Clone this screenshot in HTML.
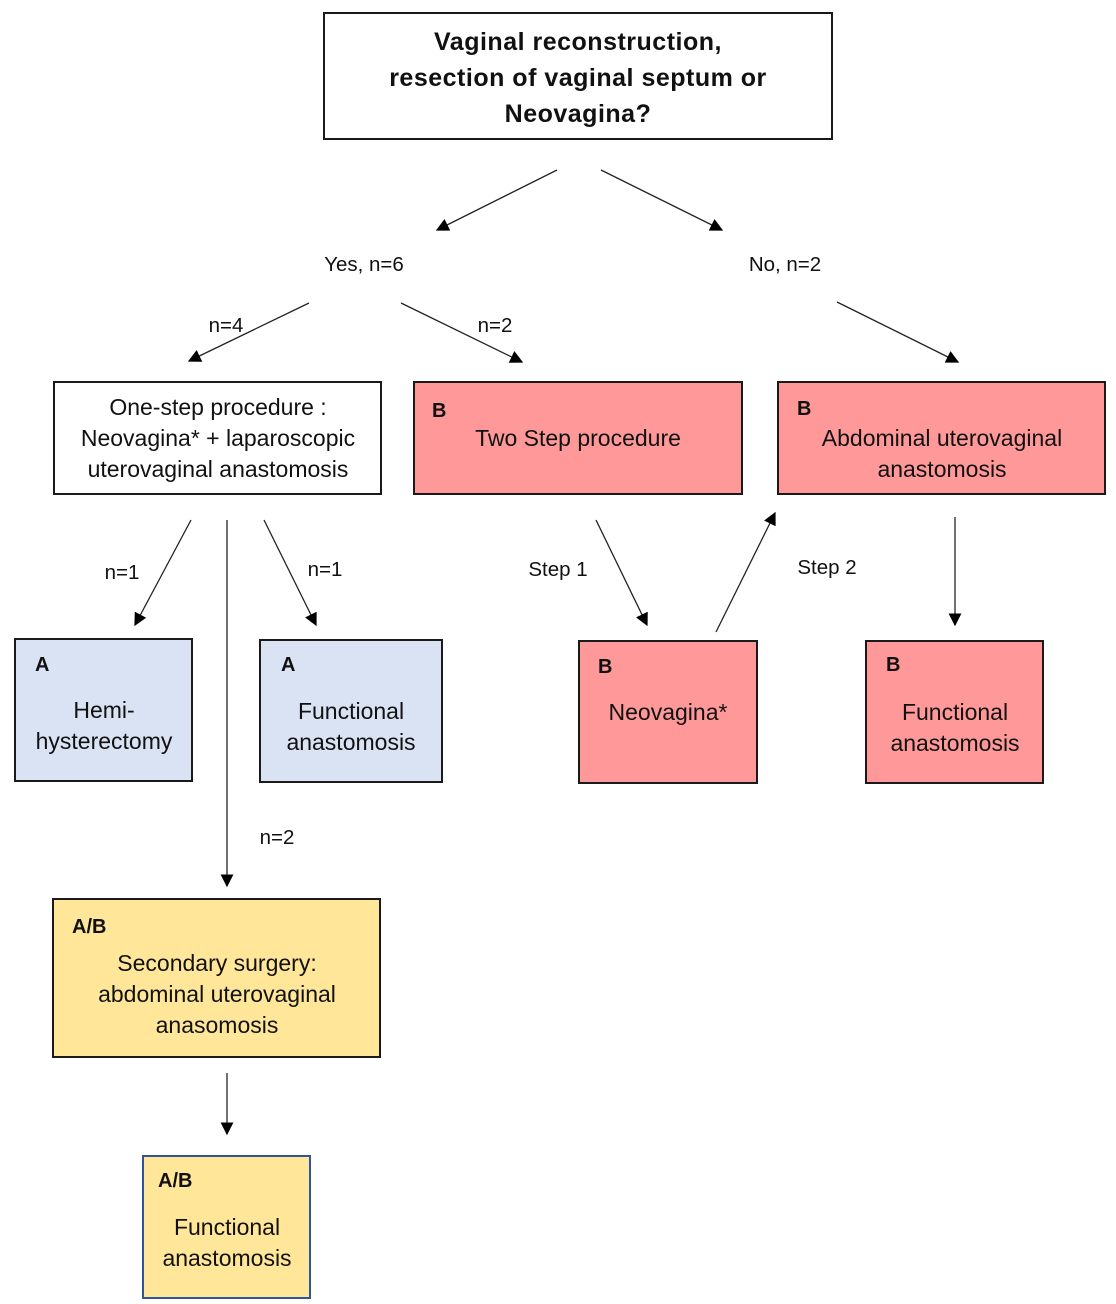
<!DOCTYPE html>
<html><head><meta charset="utf-8"><style>
body{margin:0;background:#fff}
svg{display:block}
text{font-family:"Liberation Sans","DejaVu Sans",sans-serif;fill:#111}
.t{font-size:23px;text-anchor:middle}
.l{font-size:20.5px;text-anchor:middle}
.b{font-size:20px;font-weight:bold}
.ln{stroke:#222;stroke-width:1.3;marker-end:url(#a)}
.bx{stroke:#1a1a1a;stroke-width:2}
.h{font-size:25px;font-weight:bold;text-anchor:middle;letter-spacing:0.5px}
</style></head><body>
<svg width="1116" height="1304" viewBox="0 0 1116 1304">
<defs><marker id="a" viewBox="0 0 10 10" refX="9" refY="5" markerWidth="13" markerHeight="13" markerUnits="userSpaceOnUse" orient="auto"><path d="M0,0L10,5L0,10z" fill="#000"/></marker></defs>
<rect x="324" y="13" width="508" height="126" fill="#fff" class="bx"/>
<text x="578" y="50" class="h">Vaginal reconstruction,</text>
<text x="578" y="86" class="h">resection of vaginal septum or</text>
<text x="578" y="122" class="h">Neovagina?</text>
<line x1="557" y1="170" x2="437" y2="230" class="ln"/>
<line x1="601" y1="170" x2="722" y2="230" class="ln"/>
<text x="364" y="271" class="l">Yes, n=6</text>
<text x="785" y="271" class="l">No, n=2</text>
<line x1="309" y1="303" x2="189" y2="361" class="ln"/>
<line x1="401" y1="303" x2="522" y2="362" class="ln"/>
<line x1="837" y1="302" x2="958" y2="362" class="ln"/>
<text x="226" y="332" class="l">n=4</text>
<text x="495" y="332" class="l">n=2</text>
<rect x="54" y="382" width="327" height="112" fill="#fff" class="bx"/>
<text x="218" y="415" class="t">One-step procedure :</text>
<text x="218" y="446" class="t">Neovagina* + laparoscopic</text>
<text x="218" y="477" class="t">uterovaginal anastomosis</text>
<rect x="414" y="382" width="328" height="112" fill="#ff9999" class="bx"/>
<text x="432" y="417" class="b">B</text>
<text x="578" y="446" class="t">Two Step procedure</text>
<rect x="778" y="382" width="327" height="112" fill="#ff9999" class="bx"/>
<text x="797" y="415" class="b">B</text>
<text x="942" y="446" class="t">Abdominal uterovaginal</text>
<text x="942" y="477" class="t">anastomosis</text>
<line x1="191" y1="520" x2="135" y2="625" class="ln"/>
<line x1="227" y1="520" x2="227" y2="886" class="ln"/>
<line x1="264" y1="520" x2="316" y2="625" class="ln"/>
<text x="122" y="579" class="l">n=1</text>
<text x="325" y="576" class="l">n=1</text>
<text x="277" y="844" class="l">n=2</text>
<text x="558" y="576" class="l">Step 1</text>
<line x1="596" y1="520" x2="647" y2="625" class="ln"/>
<line x1="716" y1="632" x2="775" y2="513" class="ln"/>
<text x="827" y="574" class="l">Step 2</text>
<line x1="955" y1="517" x2="955" y2="625" class="ln"/>
<rect x="15" y="639" width="177" height="142" fill="#dae3f3" class="bx"/>
<text x="35" y="671" class="b">A</text>
<text x="104" y="718" class="t">Hemi-</text>
<text x="104" y="749" class="t">hysterectomy</text>
<rect x="260" y="640" width="182" height="142" fill="#dae3f3" class="bx"/>
<text x="281" y="671" class="b">A</text>
<text x="351" y="719" class="t">Functional</text>
<text x="351" y="750" class="t">anastomosis</text>
<rect x="579" y="641" width="178" height="142" fill="#ff9999" class="bx"/>
<text x="598" y="673" class="b">B</text>
<text x="668" y="720" class="t">Neovagina*</text>
<rect x="866" y="641" width="177" height="142" fill="#ff9999" class="bx"/>
<text x="886" y="671" class="b">B</text>
<text x="955" y="720" class="t">Functional</text>
<text x="955" y="751" class="t">anastomosis</text>
<rect x="53" y="899" width="327" height="158" fill="#ffe699" class="bx"/>
<text x="72" y="933" class="b">A/B</text>
<text x="217" y="971" class="t">Secondary surgery:</text>
<text x="217" y="1002" class="t">abdominal uterovaginal</text>
<text x="217" y="1033" class="t">anasomosis</text>
<line x1="227" y1="1073" x2="227" y2="1134" class="ln"/>
<rect x="143" y="1156" width="167" height="142" fill="#ffe699" stroke="#2f5597" stroke-width="2"/>
<text x="158" y="1187" class="b" font-size="22">A/B</text>
<text x="227" y="1235" class="t">Functional</text>
<text x="227" y="1266" class="t">anastomosis</text>
</svg>
</body></html>
